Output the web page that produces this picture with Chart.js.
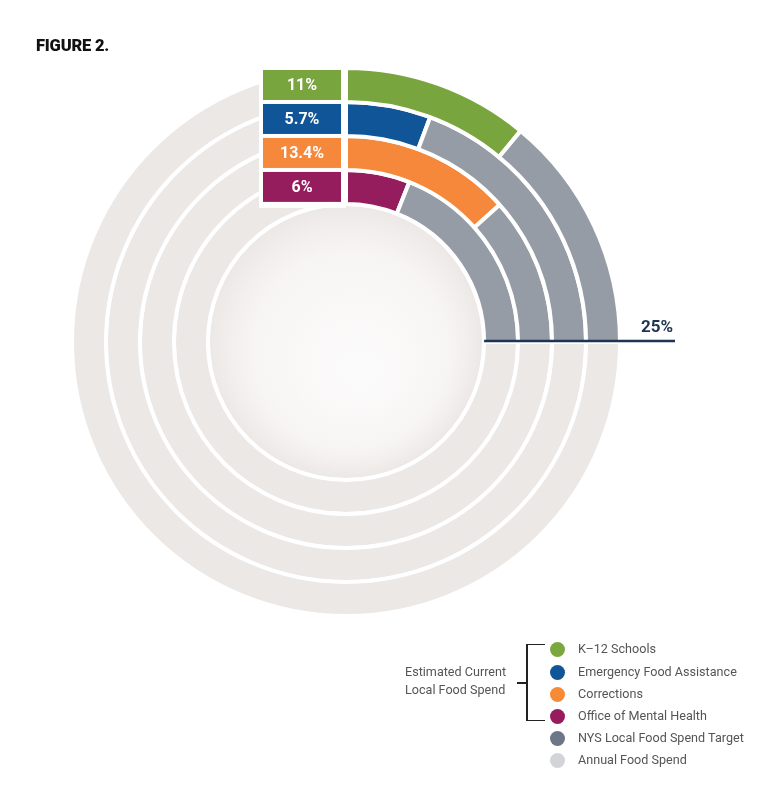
<!DOCTYPE html>
<html>
<head>
<meta charset="utf-8">
<script src="https://cdn.jsdelivr.net/npm/chart.js@4.4.1/dist/chart.umd.min.js"></script>
<style>
  html,body{margin:0;padding:0;background:#fff;}
  #wrap{position:relative;width:780px;height:808px;overflow:hidden;}
  #c{position:absolute;left:0;top:0;}
  #title{position:absolute;left:36px;top:36px;font-family:Roboto,"Liberation Sans",sans-serif;font-weight:900;font-size:16.5px;letter-spacing:-0.2px;color:#111;}
  .lg{position:absolute;font-family:Roboto,"Liberation Sans",sans-serif;font-size:12.6px;color:#555;white-space:nowrap;line-height:16px;}
  .dot{position:absolute;width:15px;height:15px;border-radius:50%;}
  .br{position:absolute;background:#222;}
</style>
</head>
<body>
<div id="wrap">
  <canvas id="c" width="780" height="808"></canvas>
  <div id="title">FIGURE 2.</div>
  <div id="legend"></div>
</div>
<script>
// ---- data ----
const categories = ['K–12 Schools', 'Emergency Food Assistance', 'Corrections', 'Office of Mental Health'];
const currentSpend = [11, 5.7, 13.4, 6];
const valueLabels = ['11%', '5.7%', '13.4%', '6%'];
const targetShare = 25;
const annualTotal = 100;
const targetLabel = '25%';
const legendLabels = ['K–12 Schools', 'Emergency Food Assistance', 'Corrections', 'Office of Mental Health', 'NYS Local Food Spend Target', 'Annual Food Spend'];
const groupLabel = ['Estimated Current', 'Local Food Spend'];

// ---- styles ----
const catColors = ['#78a53d', '#0f5597', '#f5883a', '#951d5e'];
const targetColor = '#969ca6';
const plateColor = '#ebe8e6';
const legendColors = ['#7aa83f', '#0f5598', '#f68a35', '#961c5e', '#6d7687', '#d2d4d8'];
const navy = '#1f3452';

const datasets = categories.map((c, i) => ({
  label: c,
  data: [currentSpend[i], targetShare - currentSpend[i], annualTotal - targetShare],
  backgroundColor: [catColors[i], targetColor, plateColor],
  borderColor: '#ffffff',
  borderWidth: 4,
  hoverOffset: 0
}));

const overlay = {
  id: 'overlay',
  beforeDatasetsDraw(chart) {
    const ctx = chart.ctx;
    const inner = chart.getDatasetMeta(categories.length - 1).data[0];
    const cx = inner.x, cy = inner.y, r = inner.innerRadius - 2;
    ctx.save();
    const g = ctx.createRadialGradient(cx + 15, cy + 30, r * 0.1, cx, cy, r);
    g.addColorStop(0, '#fcfbfb');
    g.addColorStop(0.7, '#f7f5f4');
    g.addColorStop(1, '#ece8e6');
    ctx.beginPath();
    ctx.arc(cx, cy, r, 0, Math.PI * 2);
    ctx.fillStyle = g;
    ctx.fill();
    ctx.restore();
  },
  afterDatasetsDraw(chart) {
    const ctx = chart.ctx;
    const first = chart.getDatasetMeta(0).data[0];
    const last = chart.getDatasetMeta(categories.length - 1).data[0];
    const cx = first.x, cy = first.y;
    ctx.save();
    // white panel behind value boxes
    ctx.fillStyle = '#ffffff';
    ctx.fillRect(cx - 87, cy - first.outerRadius - 4, 87, first.outerRadius - last.innerRadius + 8);
    categories.forEach((c, i) => {
      const a = chart.getDatasetMeta(i).data[0];
      const top = cy - a.outerRadius + 2, bot = cy - a.innerRadius - 2;
      ctx.fillStyle = catColors[i];
      ctx.fillRect(cx - 83, top, 78, bot - top);
      ctx.fillStyle = '#ffffff';
      ctx.font = '700 16px Roboto, "Liberation Sans", sans-serif';
      ctx.textAlign = 'center';
      ctx.textBaseline = 'middle';
      ctx.fillText(valueLabels[i], cx - 44, (top + bot) / 2 + 1);
    });
    // 25% line
    const lineEnd = cx + first.outerRadius + 55;
    const ly = cy - 1;
    ctx.strokeStyle = navy;
    ctx.lineWidth = 2.5;
    ctx.beginPath();
    ctx.moveTo(cx + last.innerRadius, ly);
    ctx.lineTo(lineEnd, ly);
    ctx.stroke();
    ctx.fillStyle = navy;
    ctx.font = '700 17px Roboto, "Liberation Sans", sans-serif';
    ctx.textAlign = 'right';
    ctx.textBaseline = 'alphabetic';
    ctx.fillText(targetLabel, lineEnd - 2, ly - 9);
    ctx.restore();
  }
};

new Chart(document.getElementById('c'), {
  type: 'doughnut',
  data: { labels: ['current', 'target', 'rest'], datasets },
  options: {
    responsive: false,
    animation: false,
    cutout: '50.4%',
    layout: { padding: { left: 70, right: 158, top: 66, bottom: 190 } },
    plugins: { legend: { display: false }, tooltip: { enabled: false } },
    events: []
  },
  plugins: [overlay]
});

// ---- legend (HTML) ----
const lg = document.getElementById('legend');
const rowY = [649, 672, 694, 716, 738, 760];
legendLabels.forEach((t, i) => {
  const d = document.createElement('div');
  d.className = 'dot';
  d.style.left = (557 - 7.5) + 'px';
  d.style.top = (rowY[i] - 7.5) + 'px';
  d.style.background = legendColors[i];
  lg.appendChild(d);
  const s = document.createElement('div');
  s.className = 'lg';
  s.style.left = '578px';
  s.style.top = (rowY[i] - 8) + 'px';
  s.textContent = t;
  lg.appendChild(s);
});
groupLabel.forEach((t, i) => {
  const s = document.createElement('div');
  s.className = 'lg';
  s.style.left = '405px';
  s.style.top = (664 + i * 18) + 'px';
  s.textContent = t;
  lg.appendChild(s);
});
[[526, 644, 1.5, 77], [526, 643.5, 19, 1.5], [526, 719.5, 19, 1.5], [517, 682, 10, 1.5]].forEach(([x, y, w, h]) => {
  const b = document.createElement('div');
  b.className = 'br';
  b.style.left = x + 'px'; b.style.top = y + 'px';
  b.style.width = w + 'px'; b.style.height = h + 'px';
  lg.appendChild(b);
});
</script>
</body>
</html>
